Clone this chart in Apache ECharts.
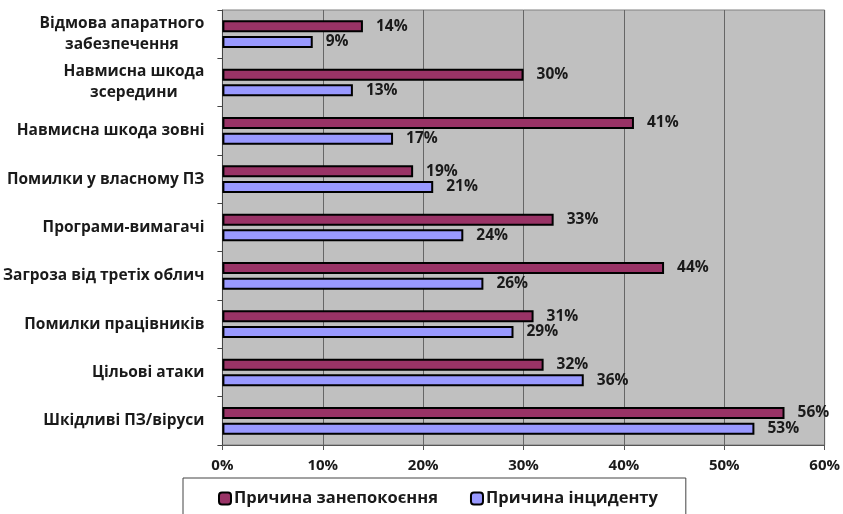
<!DOCTYPE html>
<html>
<head>
<meta charset="utf-8">
<script src="https://cdn.jsdelivr.net/npm/echarts@6/dist/echarts.min.js"></script>
<style>
  html, body { margin: 0; padding: 0; background: #fff; }
  #chart { width: 843px; height: 514px; }
</style>
</head>
<body>
<div id="chart"></div>
<script>
// categories top to bottom
var categories = [
  'Відмова апаратного\nзабезпечення',
  'Навмисна шкода\nзсередини',
  'Навмисна шкода зовні',
  'Помилки у власному ПЗ',
  'Програми-вимагачі',
  'Загроза від третіх облич',
  'Помилки працівників',
  'Цільові атаки',
  'Шкідливі ПЗ/віруси'
]
var concernData = [14, 30, 41, 19, 33, 44, 31, 32, 56]
var incidentData = [9, 13, 17, 21, 24, 26, 29, 36, 53]
var seriesNames = ['Причина занепокоєння', 'Причина інциденту']

var font = '"Open Sans", sans-serif'
var textColor = '#1a1a1a'
var catFontSize = 15.5

// multi-line category labels: lines centred inside a right-aligned block
var measureCtx = document.createElement('canvas').getContext('2d')
measureCtx.font = 'bold ' + catFontSize + 'px "Open Sans"'
function catLabel(value) {
  var lines = value.split('\n')
  if (lines.length === 1) return value
  var w = 0
  lines.forEach(function (l) { w = Math.max(w, Math.ceil(measureCtx.measureText(l).width)) })
  return lines.map(function (l) { return '{c' + w + '|' + l + '}' }).join('\n')
}
var richStyles = {}
categories.forEach(function (c) {
  var lines = c.split('\n')
  if (lines.length > 1) {
    var w = 0
    lines.forEach(function (l) { w = Math.max(w, Math.ceil(measureCtx.measureText(l).width)) })
    richStyles['c' + w] = {
      width: w, align: 'center', fontFamily: font, fontWeight: 'bold',
      fontSize: catFontSize, lineHeight: 21, color: textColor
    }
  }
})

var chart = echarts.init(document.getElementById('chart'))

function barLabel() {
  return {
    show: true,
    position: 'right',
    distance: 13,
    formatter: '{c}%',
    fontFamily: font,
    fontWeight: 'bold',
    fontSize: 15.5,
    color: textColor
  }
}

chart.setOption({
  animation: false,
  textStyle: { fontFamily: font },
  grid: {
    left: 220,
    right: 18,
    top: 10,
    bottom: 69,
    show: true,
    backgroundColor: '#c0c0c0',
    borderColor: '#808080',
    borderWidth: 1
  },
  legend: {
    data: seriesNames,
    left: 183,
    top: 478,
    padding: [12, 28, 20, 35],
    itemGap: 32,
    itemWidth: 12,
    itemHeight: 12,
    backgroundColor: '#fff',
    borderColor: '#444',
    borderWidth: 1,
    textStyle: {
      fontFamily: font,
      fontWeight: 'bold',
      fontSize: 16.5,
      color: textColor,
      padding: [0, 0, 0, -2]
    }
  },
  xAxis: {
    type: 'value',
    min: 0,
    max: 60,
    interval: 10,
    axisLabel: {
      formatter: '{value}%',
      fontFamily: font,
      fontWeight: 'bold',
      fontSize: 15,
      color: textColor,
      margin: 13
    },
    axisLine: { show: true, lineStyle: { color: '#555' } },
    axisTick: { show: true, length: 5, lineStyle: { color: '#555' } },
    splitLine: { show: true, lineStyle: { color: '#666', width: 1 } }
  },
  yAxis: {
    type: 'category',
    data: categories,
    inverse: true,
    axisLabel: {
      formatter: catLabel,
      rich: richStyles,
      fontFamily: font,
      fontWeight: 'bold',
      fontSize: catFontSize,
      color: textColor,
      lineHeight: 21,
      margin: 18
    },
    axisLine: { show: true, lineStyle: { color: '#444' } },
    axisTick: { show: true, length: 5, lineStyle: { color: '#444' } }
  },
  series: [
    {
      name: seriesNames[0],
      type: 'bar',
      data: concernData,
      barWidth: 12,
      barGap: '30%',
      itemStyle: { color: '#993366', borderColor: '#000', borderWidth: 2 },
      label: barLabel()
    },
    {
      name: seriesNames[1],
      type: 'bar',
      data: incidentData,
      barWidth: 12,
      barGap: '30%',
      itemStyle: { color: '#9999ff', borderColor: '#000', borderWidth: 2 },
      label: barLabel()
    }
  ]
})
</script>
</body>
</html>
